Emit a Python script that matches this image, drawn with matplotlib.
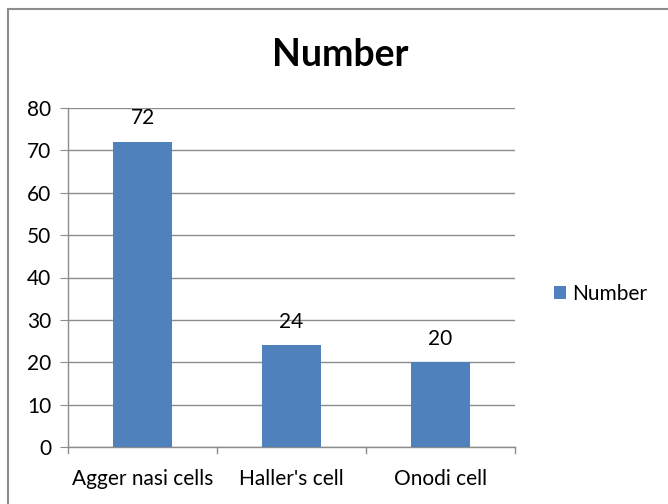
import matplotlib
matplotlib.use("Agg")
import matplotlib.pyplot as plt
from matplotlib.patches import Rectangle

categories = ["Agger nasi cells", "Haller's cell", "Onodi cell"]
values = [72, 24, 20]
yticks = [0, 10, 20, 30, 40, 50, 60, 70, 80]
series_name = "Number"

plt.rcParams['font.family'] = ['Lato', 'DejaVu Sans']
FS = 15

W, H = 668, 504
fig = plt.figure(figsize=(W / 100, H / 100), dpi=100)

# outer chart frame (runs off the right and bottom edges)
fig.patches.append(Rectangle((8 / W, -0.1), 1.2, 1 - 9 / H + 0.1,
                             transform=fig.transFigure, fill=False,
                             edgecolor="#8c8c8c", linewidth=1.5))

left, right, top, bottom = 68, 515, 108, 447
ax = fig.add_axes([left / W, 1 - bottom / H, (right - left) / W, (bottom - top) / H])

x = range(len(categories))
bars = ax.bar(x, values, width=0.39, color="#4F81BD", label=series_name, zorder=3)
ax.set_xlim(-0.5, len(categories) - 0.5)
ax.set_ylim(0, 80)
ax.set_yticks(yticks)
ax.set_yticklabels([str(v) for v in yticks], fontsize=FS)
ax.yaxis.grid(True, color="#8c8c8c", linewidth=1, zorder=0)
ax.tick_params(axis="y", length=6, color="#8c8c8c", direction="out", pad=6)

ax.set_xticks(list(x))
ax.set_xticklabels(categories, fontsize=FS)
ax.tick_params(axis="x", length=0, pad=16)
# category separators below the axis
for b in [-0.5, 0.5, 1.5, 2.5]:
    ax.plot([b, b], [0, -0.018 * 80], color="#8c8c8c", linewidth=1, clip_on=False)

for s in ["top", "right"]:
    ax.spines[s].set_visible(False)
for s in ["left", "bottom"]:
    ax.spines[s].set_color("#8c8c8c")
    ax.spines[s].set_linewidth(1)

for i, v in enumerate(values):
    ax.text(i, v + 5.6, str(v), ha="center", va="center", fontsize=FS)

fig.text(340 / W, 1 - 55 / H, "Number", ha="center", va="center",
         fontsize=27, fontweight="bold")

fig.legend(handles=[bars], labels=[series_name], loc="center left",
           bbox_to_anchor=(535 / W, 1 - 294 / H), frameon=False, fontsize=FS,
           handlelength=0.6, handleheight=0.6, handletextpad=0.3)

fig.savefig("out.png", dpi=100)
